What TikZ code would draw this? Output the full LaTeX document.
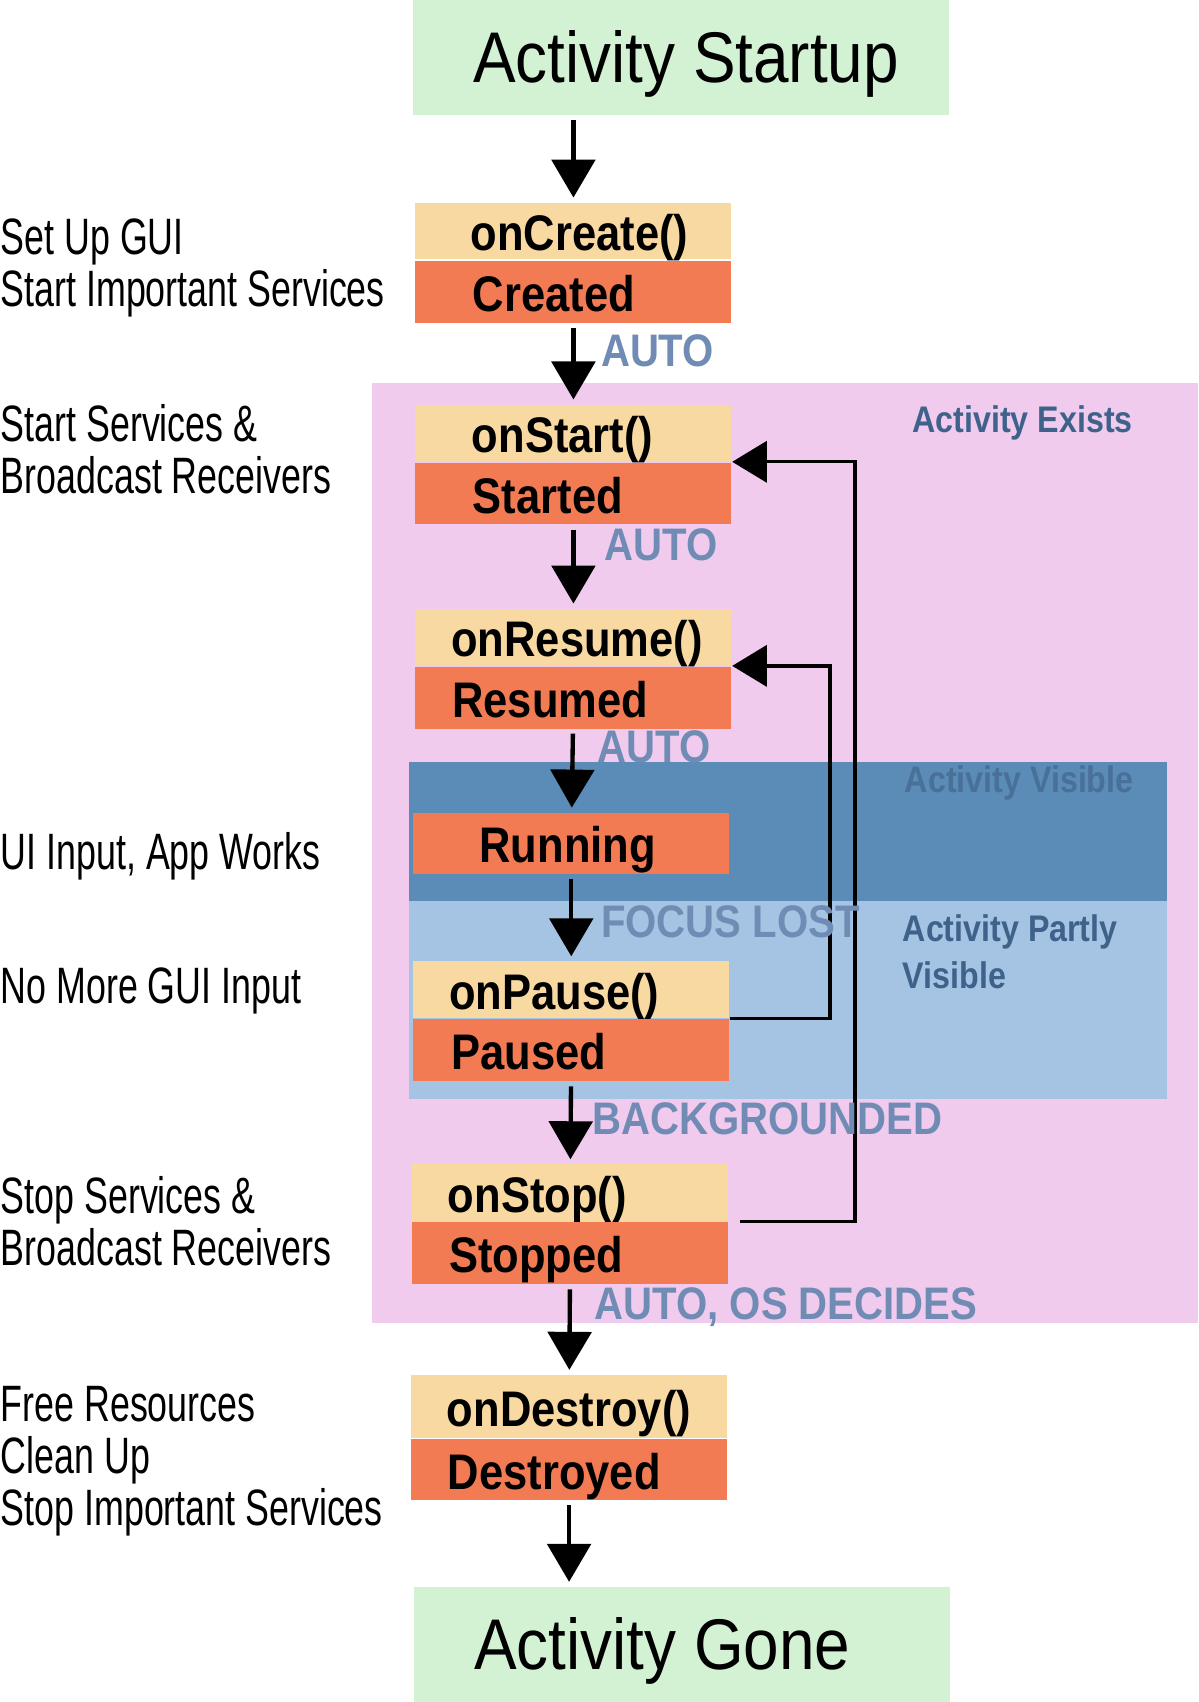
\documentclass[tikz,border=0pt]{standalone}
\usepackage{fontspec}
\setmainfont{Liberation Sans}
\newfontfamily\titolofont[FakeStretch=0.89]{Liberation Sans}
\newfontfamily\boxfont[FakeStretch=0.87]{Liberation Sans}
\newfontfamily\notafont[FakeStretch=0.70]{Liberation Sans}
\newfontfamily\eventofont[FakeStretch=0.88]{Liberation Sans}
\usetikzlibrary{arrows.meta,positioning}
\definecolor{verdino}{RGB}{211,242,211}
\definecolor{grano}{RGB}{248,217,162}
\definecolor{corallo}{RGB}{242,123,83}
\definecolor{rosa}{RGB}{240,203,238}
\definecolor{bluscuro}{RGB}{91,139,183}
\definecolor{bluchiaro}{RGB}{165,195,227}
\definecolor{blueti}{RGB}{112,140,180}
\definecolor{bluzona}{RGB}{62,98,138}
\definecolor{bluvisibile}{RGB}{72,112,152}
\tikzset{
titolo/.style={fill=verdino,minimum height=1.06cm,inner sep=0pt,text width=4.93cm,align=left,text height=0.46cm,text depth=0pt,execute at begin node={\spaceskip=0pt\xspaceskip=0pt\hspace*{0.55cm}},font=\titolofont\fontsize{18.8}{22}\selectfont},
parte/.style={rectangle,inner sep=0pt,text width=2.91cm,align=left,text height=0.36cm,text depth=0pt,execute at begin node={\hspace*{#1}},font=\boxfont\bfseries\fontsize{13.1}{15}\selectfont},
metodo/.style={fill=grano,minimum height=0.52cm,parte=#1},
stato/.style={fill=corallo,minimum height=0.57cm,parte=#1},
nota/.style={anchor=north west,inner sep=0pt,align=left,font=\notafont\fontsize{13.4}{13.66}\selectfont},
evento/.style={anchor=north west,inner sep=0pt,text=blueti,font=\eventofont\bfseries\fontsize{11.95}{13}\selectfont},
zona/.style={anchor=north west,inner sep=0pt,align=left,text=bluzona,font=\boxfont\bfseries\fontsize{9.7}{12.2}\selectfont},
freccia/.style={-{Triangle[length=0.35cm,width=0.4cm]},line width=0.04cm,shorten <=0.04cm,shorten >=0.04cm},
ritorno/.style={-{Triangle[length=0.32cm,width=0.38cm]},line width=0.03cm}}

\begin{document}
\begin{tikzpicture}[x=0.01cm,y=-0.01cm]
\useasboundingbox (0,0) rectangle (1103.7,1568);

\fill[rosa] (343,353) rectangle (1103.7,1219);
\fill[bluscuro] (377,702) rectangle (1075,830);
\fill[bluchiaro] (377,830) rectangle (1075,1012);

\node[titolo] (startup) at (627.5,53) {Activity Startup};
\node[metodo=0.51cm,anchor=north west] (oncreate) at (382,186) {onCreate()};
\node[stato=0.53cm,below=0pt of oncreate] (created) {Created};
\node[metodo=0.52cm,anchor=north west] (onstart) at (382,372) {onStart()};
\node[stato=0.53cm,below=0pt of onstart] (started) {Started};
\node[metodo=0.33cm,anchor=north west] (onresume) at (382,560) {onResume()};
\node[stato=0.34cm,below=0pt of onresume] (resumed) {Resumed};
\node[stato=0.61cm,anchor=north west,minimum height=0.56cm] (running) at (380,748) {Running};
\node[metodo=0.33cm,anchor=north west] (onpause) at (380,885) {onPause()};
\node[stato=0.35cm,below=0pt of onpause] (paused) {Paused};
\node[metodo=0.33cm,anchor=north west] (onstop) at (379,1072) {onStop()};
\node[stato=0.34cm,below=0pt of onstop] (stopped) {Stopped};
\node[metodo=0.33cm,anchor=north west,minimum height=0.58cm] (ondestroy) at (378,1266) {onDestroy()};
\node[stato=0.34cm,below=0pt of ondestroy,minimum height=0.56cm] (destroyed) {Destroyed};
\node[titolo] (gone) at (628.5,1515) {Activity Gone};

\node[nota] (n1) at (0,201) {Set Up GUI\\Start Important Services};
\node[nota] (n2) at (0,372) {Start Services \&\\Broadcast Receivers};
\node[nota] (n3) at (0,766) {UI Input, App Works};
\node[nota] (n4) at (0,891) {No More GUI Input};
\node[nota] (n5) at (0,1083) {Stop Services \&\\Broadcast Receivers};
\node[nota] (n6) at (0,1276) {Free Resources\\Clean Up\\Stop Important Services};

\path[freccia]
	(startup.south -| oncreate.north) edge (oncreate.north)
	(created) edge (onstart)
	(started) edge (onresume)
	(resumed) edge (running)
	(running) edge (onpause)
	(paused) edge (onstop)
	(stopped) edge (ondestroy)
	(destroyed.south) edge (destroyed.south |- gone.north);
\draw[ritorno] (onpause.south east) -- ++(92,0) |- (onresume.south east);
\draw[ritorno,shorten <=0.1cm] (onstop.south east) -- ++(116,0) |- (onstart.south east);

\node[evento] (e1) at (553,308) {AUTO};
\node[evento] (e2) at (556,486) {AUTO};
\node[evento] (e3) at (550,672) {AUTO};
\node[evento] (e4) at (553,834) {FOCUS LOST};
\node[evento] (e5) at (545,1015) {BACKGROUNDED};
\node[evento] (e6) at (547,1186) {AUTO, OS DECIDES};

\node[zona] (z1) at (840,373) {Activity Exists};
\node[zona,text=bluvisibile] (z2) at (833,705) {Activity Visible};
\node[zona] (z3) at (831,842) {Activity Partly\\Visible};
\end{tikzpicture}
\end{document}
